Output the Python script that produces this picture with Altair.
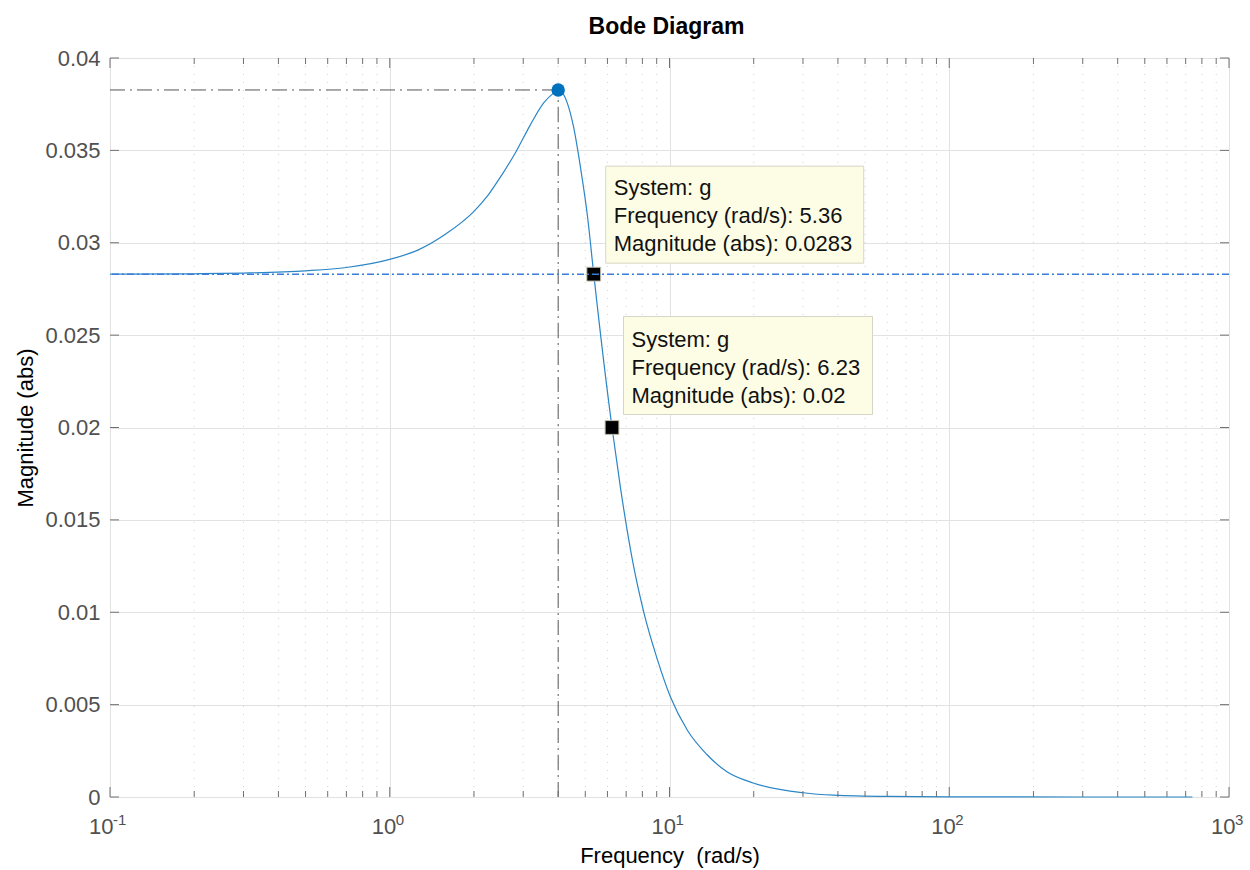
import altair as alt
import pandas as pd

# ---- data ----
freq = [0.1, 0.2, 0.3, 0.5, 0.7, 1.0, 1.26, 1.585, 2.0, 2.24, 2.51, 2.82, 3.16,
        3.55, 3.85, 4.0, 4.31, 4.54, 4.81, 5.10, 5.36, 6.23, 6.68, 7.45, 8.09,
        9.06, 10.08, 11.6, 13.6, 16.1, 19.9, 30.1, 38.6, 60, 100, 300, 740]
mag = [0.02830, 0.02832, 0.02836, 0.02848, 0.02866, 0.0291, 0.0296, 0.03047,
       0.0317, 0.03255, 0.03365, 0.0349, 0.0363, 0.03757, 0.0381, 0.03827, 0.03757,
       0.03627, 0.03405, 0.03134, 0.0283, 0.0200, 0.01673, 0.01245, 0.01001,
       0.00742, 0.00541, 0.0036, 0.0023, 0.00135, 0.00076, 0.00023, 0.0001,
       0.00003, 0.00001, 0.000001, 0.0]

peak_f = [4.0]
peak_m = [0.03827]
dc_gain = [0.0283]

tip_f = [5.36, 6.23]
tip_m = [0.0283, 0.02]
tip_text = ["System: g\nFrequency (rad/s): 5.36\nMagnitude (abs): 0.0283",
            "System: g\nFrequency (rad/s): 6.23\nMagnitude (abs): 0.02"]

x_decades = [0.1, 1, 10, 100, 1000]
x_exps = ["-1", "0", "1", "2", "3"]
x_minor = [m * d for d in [0.1, 1, 10, 100] for m in range(2, 10)]
y_ticks = [0, 0.005, 0.01, 0.015, 0.02, 0.025, 0.03, 0.035, 0.04]

title_text = ["Bode Diagram"]

FONT = "Liberation Sans"
W, H = 1119, 739
BORDER = "#707070"

xs = alt.Scale(type="log", domain=[0.1, 1000], nice=False)
ys = alt.Scale(domain=[0, 0.04], nice=False, zero=False)

xaxis = alt.Axis(
    values=x_decades, labelExpr="'10'", labelAlign="right",
    labelOffset={"condition": {"test": "datum.value < 0.5", "value": 3}, "value": 6},
    labelBaseline="alphabetic", labelPadding=36, labelFontSize=22,
    labelColor="#505050", labelFont=FONT, labelFlush=False, labelOverlap=False,
    grid=True, gridColor="#e2e2e2", gridWidth=1,
    title="Frequency\u00a0\u00a0(rad/s)", titleFont=FONT, titleFontSize=22,
    titleFontWeight="normal", titleColor="black", titleX=559.5, titleY=65,
    titleBaseline="alphabetic", titleAlign="center",
    ticks=False, tickSize=0, domain=False)

yaxis = alt.Axis(
    values=y_ticks, format=".3~f", labelFontSize=22, labelColor="#505050",
    labelFont=FONT, labelPadding=10, labelFlush=False, labelOverlap=False,
    grid=True, gridColor="#e2e2e2", gridWidth=1,
    title="Magnitude (abs)", titleFont=FONT, titleFontSize=22,
    titleFontWeight="normal", titleColor="black", titleX=-85, titleY=369.5,
    titleAngle=270, titleAlign="center", titleBaseline="middle",
    ticks=False, tickSize=0, domain=False)


def X(field):
    return alt.X(field, type="quantitative", scale=xs, axis=xaxis)


def Y(field):
    return alt.Y(field, type="quantitative", scale=ys, axis=yaxis)


curve_df = pd.DataFrame({"f": freq, "m": mag})
peak_df = pd.DataFrame({"f": peak_f, "m": peak_m, "f0": [0.1], "m0": [0.0]})
dc_df = pd.DataFrame({"m": dc_gain})
tips_df = pd.DataFrame({"f": tip_f, "m": tip_m, "t": tip_text})
dec_df = pd.DataFrame({"f": x_decades, "e": x_exps})
minor_df = pd.DataFrame({"f": x_minor})
yt_df = pd.DataFrame({"m": y_ticks})
title_df = pd.DataFrame({"t": title_text})

minor_grid = alt.Chart(minor_df).mark_rule(
    color="#d2d2d2", strokeWidth=1, strokeDash=[1, 7]
).encode(x=X("f"))

gray_h = alt.Chart(peak_df).mark_rule(
    color="#555555", strokeWidth=1, strokeDash=[15, 5, 2, 5]
).encode(x=X("f0"), x2="f", y=Y("m"))

gray_v = alt.Chart(peak_df).mark_rule(
    color="#555555", strokeWidth=1, strokeDash=[15, 5, 2, 5]
).encode(x=X("f"), y=Y("m0"), y2="m")

curve = alt.Chart(curve_df).mark_line(
    color="#2a86c6", strokeWidth=1.2, interpolate="monotone"
).encode(x=X("f"), y=Y("m"))

squares = alt.Chart(tips_df).mark_square(
    size=190, color="black", opacity=1, stroke="#bdbdab", strokeWidth=1
).encode(x=X("f"), y=Y("m"))

blue_h = alt.Chart(dc_df).mark_rule(
    color="#3b7dd8", strokeWidth=1.5, strokeDash=[7, 3, 2, 3]
).encode(y=Y("m"))

peak = alt.Chart(peak_df).mark_circle(
    size=180, color="#0072BD", opacity=1
).encode(x=X("f"), y=Y("m"))

box_style = dict(fill="#fdfde6", stroke="#d6d6c6", strokeWidth=1)
tip1 = pd.DataFrame({"f": tip_f[:1], "m": tip_m[:1], "t": tip_text[:1]})
tip2 = pd.DataFrame({"f": tip_f[1:], "m": tip_m[1:], "t": tip_text[1:]})

box1 = alt.Chart(tip1).mark_rect(
    xOffset=12, x2Offset=270, yOffset=-108, y2Offset=-11, **box_style
).encode(x=X("f"), x2="f", y=Y("m"), y2="m")
txt1 = alt.Chart(tip1).mark_text(
    align="left", baseline="middle", lineBreak="\n", lineHeight=28,
    dx=20, dy=-86, fontSize=22, font=FONT, color="#111111"
).encode(x=X("f"), y=Y("m"), text="t:N")

box2 = alt.Chart(tip2).mark_rect(
    xOffset=11.5, x2Offset=260.5, yOffset=-111, y2Offset=-13, **box_style
).encode(x=X("f"), x2="f", y=Y("m"), y2="m")
txt2 = alt.Chart(tip2).mark_text(
    align="left", baseline="middle", lineBreak="\n", lineHeight=28,
    dx=19.5, dy=-88, fontSize=22, font=FONT, color="#111111"
).encode(x=X("f"), y=Y("m"), text="t:N")

exp_a = alt.Chart(dec_df).transform_filter("datum.f < 0.5").mark_text(
    align="left", baseline="alphabetic", dx=3, dy=28, fontSize=15,
    font=FONT, color="#505050"
).encode(x=X("f"), y=alt.value(H), text="e:N")
exp_b = alt.Chart(dec_df).transform_filter("datum.f > 0.5").mark_text(
    align="left", baseline="alphabetic", dx=6, dy=28, fontSize=15,
    font=FONT, color="#505050"
).encode(x=X("f"), y=alt.value(H), text="e:N")

tick_style = dict(color=BORDER, strokeWidth=1)
maj_b = alt.Chart(dec_df).mark_rule(**tick_style).encode(
    x=X("f"), y=alt.value(H), y2=alt.value(H - 10))
maj_t = alt.Chart(dec_df).mark_rule(**tick_style).encode(
    x=X("f"), y=alt.value(0), y2=alt.value(10))
min_b = alt.Chart(minor_df).mark_rule(**tick_style).encode(
    x=X("f"), y=alt.value(H), y2=alt.value(H - 6))
min_t = alt.Chart(minor_df).mark_rule(**tick_style).encode(
    x=X("f"), y=alt.value(0), y2=alt.value(6))
yt_l = alt.Chart(yt_df).mark_rule(**tick_style).encode(
    y=Y("m"), x=alt.value(0), x2=alt.value(9))
yt_r = alt.Chart(yt_df).mark_rule(**tick_style).encode(
    y=Y("m"), x=alt.value(W - 9), x2=alt.value(W))

title_mark = alt.Chart(title_df).mark_text(
    align="center", baseline="alphabetic", fontSize=23, fontWeight="bold",
    font=FONT, color="black"
).encode(x=alt.value(W / 2 - 3), y=alt.value(-24), text="t:N")

chart = alt.layer(
    minor_grid, gray_h, gray_v, curve, squares, blue_h, peak,
    box1, txt1, box2, txt2, exp_a, exp_b,
    maj_b, maj_t, min_b, min_t, yt_l, yt_r, title_mark
).properties(
    width=W, height=H,
    autosize=alt.AutoSizeParams(type="none"),
    padding={"left": 110, "top": 58, "right": 21, "bottom": 73},
).configure_view(
    stroke=BORDER, strokeWidth=1
).configure(background="white")

chart.save("out.html", embed_options={"renderer": "svg", "actions": False})
